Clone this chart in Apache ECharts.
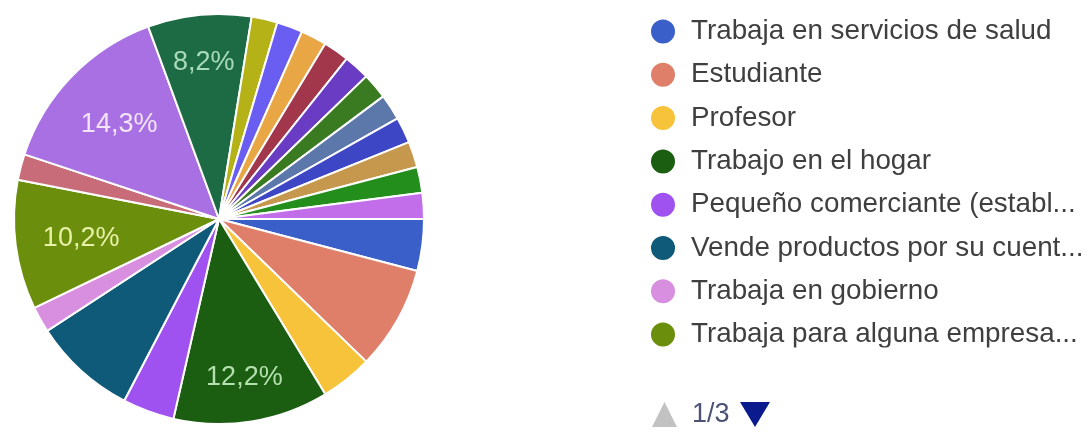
<!DOCTYPE html>
<html>
<head>
<meta charset="utf-8">
<script src="https://cdn.jsdelivr.net/npm/echarts@6/dist/echarts.min.js"></script>
<style>
  html, body { margin: 0; padding: 0; background: #ffffff; }
  #chart { width: 1090px; height: 432px; }
</style>
</head>
<body>
<div id="chart"></div>
<script>
// Occupation of respondents (49 answers)
const categories = [
  'Trabaja en servicios de salud',
  'Estudiante',
  'Profesor',
  'Trabajo en el hogar',
  'Pequeño comerciante (establ...',
  'Vende productos por su cuent...',
  'Trabaja en gobierno',
  'Trabaja para alguna empresa...',
  'Jubilado',
  'Desempleado',
  'Agricultor',
  'Conductor',
  'Obrero',
  'Artesano',
  'Técnico',
  'Albañil',
  'Mecánico',
  'Costurera',
  'Guardia de seguridad',
  'Cocinero',
  'Empleado de limpieza',
  'Profesionista independiente'
];

const counts = [2, 4, 2, 6, 2, 4, 1, 5, 1, 7, 4, 1, 1, 1, 1, 1, 1, 1, 1, 1, 1, 1];

const sliceColors = [
  '#3b5fc9', '#e07f69', '#f6c33b', '#1b5e12', '#9f52f0', '#0e5a78',
  '#d98fe0', '#6b8e0c', '#c86c7a', '#a870e2', '#1c6b45', '#b5b218',
  '#6a5df2', '#e8a645', '#a2374b', '#6a3cc4', '#3a7a20', '#5c78aa',
  '#3d46c4', '#c6984d', '#238e1c', '#c26eea'
];

// Percentage labels: slices whose label sits nearer the rim (mostly vertical
// placement) and those set a little deeper (mostly horizontal placement)
const outerLabels = { 'Agricultor': '#a9dbb9', 'Trabajo en el hogar': '#b4dfae' };
const innerLabels = { 'Desempleado': '#f3e4f7', 'Trabaja para alguna empresa...': '#e8f1a6' };

const LEGEND_PAGE_SIZE = 8;
const FONT = '"Liberation Sans", Arial, sans-serif';
const total = counts.reduce((a, b) => a + b, 0);

const sliceData = categories.map((name, i) => ({
  name: name,
  value: counts[i],
  itemStyle: { color: sliceColors[i] }
}));

// Transparent twin rings carry the labels: the "inside" anchor of a ring sits
// at half its radius, so a wider ring pushes the text towards the rim.
function labelRing(radius, tints) {
  return {
    type: 'pie',
    center: [219, 221],
    radius: radius,
    startAngle: 0,
    clockwise: true,
    avoidLabelOverlap: false,
    silent: true,
    z: 5,
    itemStyle: { color: 'rgba(0,0,0,0)', borderWidth: 0 },
    labelLine: { show: false },
    label: {
      position: 'inside',
      fontFamily: FONT,
      fontSize: 27,
      formatter: p => (p.value / total * 100).toFixed(1).replace('.', ',') + '%'
    },
    emphasis: { disabled: true },
    data: categories.map((name, i) => ({
      name: name,
      value: counts[i],
      label: { show: tints[name] !== undefined, color: tints[name] || '#fff' }
    }))
  };
}

const pageCount = Math.ceil(categories.length / LEGEND_PAGE_SIZE);
let currentPage = 1;

function pagerGraphic() {
  return [
    {
      type: 'polygon', id: 'pagePrev',
      shape: { points: [[652, 427], [664.5, 402], [677, 427]] },
      style: { fill: currentPage > 1 ? '#0b1b8e' : '#c2c2c2' },
      onclick: () => goToPage(currentPage - 1)
    },
    {
      type: 'text', id: 'pageText', x: 692, y: 415,
      style: {
        text: currentPage + '/' + pageCount,
        font: '27px ' + FONT,
        fill: '#4b5275',
        verticalAlign: 'middle'
      }
    },
    {
      type: 'polygon', id: 'pageNext',
      shape: { points: [[740, 402], [770, 402], [755, 427]] },
      style: { fill: currentPage < pageCount ? '#0b1b8e' : '#c2c2c2' },
      onclick: () => goToPage(currentPage + 1)
    }
  ];
}

const chart = echarts.init(document.getElementById('chart'), null, { renderer: 'canvas' });

function goToPage(page) {
  if (page < 1 || page > pageCount) return;
  currentPage = page;
  chart.dispatchAction({ type: 'legendScroll', scrollDataIndex: (page - 1) * LEGEND_PAGE_SIZE });
  chart.setOption({ graphic: pagerGraphic() });
}

chart.setOption({
  animation: false,
  backgroundColor: '#ffffff',
  legend: {
    type: 'scroll',
    orient: 'vertical',
    left: 644,
    top: 12.5,
    height: 412.5,
    icon: 'circle',
    itemWidth: 46,
    itemHeight: 26,
    itemGap: 15.3,
    data: categories,
    textStyle: { fontFamily: FONT, fontSize: 27.8, color: '#3f3f3f' },
    // the built-in pager only reserves space; the visible pager is drawn below
    pageButtonPosition: 'end',
    pageButtonGap: 58.5,
    pageIconSize: 24,
    pageIconColor: 'rgba(0,0,0,0)',
    pageIconInactiveColor: 'rgba(0,0,0,0)',
    pageTextStyle: { fontFamily: FONT, fontSize: 24, color: 'rgba(0,0,0,0)' }
  },
  graphic: pagerGraphic(),
  series: [
    {
      type: 'pie',
      center: [219, 219],
      radius: 205,
      startAngle: 0,
      clockwise: true,
      avoidLabelOverlap: false,
      silent: true,
      label: { show: false },
      labelLine: { show: false },
      itemStyle: { borderColor: '#ffffff', borderWidth: 2 },
      data: sliceData
    },
    labelRing(312, outerLabels),
    labelRing(272, innerLabels)
  ]
});
</script>
</body>
</html>
